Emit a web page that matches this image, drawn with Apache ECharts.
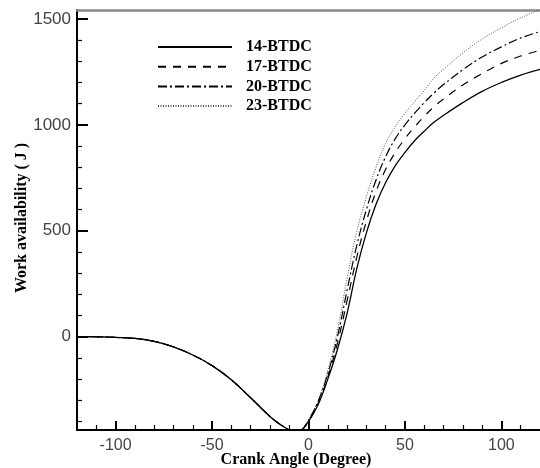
<!DOCTYPE html>
<html>
<head>
<meta charset="utf-8">
<script src="https://cdn.jsdelivr.net/npm/echarts@6/dist/echarts.min.js"></script>
<style>
  html, body { margin: 0; padding: 0; background: #fff; }
  #chart { width: 540px; height: 468px; }
</style>
</head>
<body>
<div id="chart"></div>
<script>
// Compression stroke: identical for every injection timing
const compressionAngles = [-120, -110, -100, -90, -80, -70, -60, -50, -40, -30, -20, -15, -10, -7, -4];
const compressionWork   = [0, 0, -3, -8, -22, -48, -86, -136, -203, -288, -376, -412, -440, -455, -445];

// Combustion / expansion: one curve per injection timing (deg BTDC)
const expansionAngles = [0, 5, 10, 15, 20, 25, 30, 35, 40, 45, 50, 55, 60, 65, 70, 80, 90, 100, 110, 120];
const work14 = [-400, -320, -200, -60, 110, 320, 490, 625, 728, 808, 870, 925, 970, 1012, 1045, 1105, 1158, 1200, 1235, 1262];
const work17 = [-398, -315, -190, -30, 170, 375, 545, 685, 790, 870, 935, 990, 1040, 1085, 1122, 1188, 1242, 1290, 1325, 1352];
const work20 = [-395, -305, -175, 0, 220, 430, 600, 740, 850, 935, 1000, 1055, 1105, 1150, 1190, 1260, 1320, 1368, 1410, 1440];
const work23 = [-390, -300, -160, 30, 275, 495, 660, 800, 912, 992, 1055, 1110, 1162, 1220, 1262, 1340, 1405, 1458, 1505, 1545];

const seriesNames = ['14-BTDC', '17-BTDC', '20-BTDC', '23-BTDC'];

// Axis tick positions
const xMajorTicks = [-100, -50, 0, 50, 100];
const xMinorTicks = [-110, -90, -80, -70, -60, -40, -30, -20, -10, 10, 20, 30, 40, 60, 70, 80, 90, 110];
const yMajorTicks = [0, 500, 1000, 1500];
const yMinorTicks = [-400, -300, -200, -100, 100, 200, 300, 400, 600, 700, 800, 900, 1100, 1200, 1300, 1400];

const serif = "'Liberation Serif', 'DejaVu Serif', serif";
const sans = "'Liberation Sans', Arial, sans-serif";

function curve(values) {
  const angles = compressionAngles.concat(expansionAngles);
  const work = compressionWork.concat(values);
  return angles.map((a, i) => [a, work[i]]);
}

const lineStyles = [
  { color: '#000', width: 1.3, type: 'solid' },
  { color: '#000', width: 1.2, type: [8, 7] },
  { color: '#000', width: 1.2, type: [9, 3, 2, 3] },
  { color: '#555', width: 1, type: [1, 1.5] }
];
const curves = [work14, work17, work20, work23];

const X_MIN = -120, X_MAX = 120, Y_MIN = -440, Y_MAX = 1542;

const chart = echarts.init(document.getElementById('chart'), null, { renderer: 'canvas' });

chart.setOption({
  animation: false,
  backgroundColor: '#fff',
  grid: { left: 77, right: -8, top: 10, bottom: 38, containLabel: false },
  legend: {
    orient: 'vertical',
    left: 157,
    top: 39,
    padding: 0,
    itemWidth: 74,
    itemHeight: 14,
    itemGap: 3.7,
    itemStyle: { opacity: 0 },
    textStyle: { fontFamily: serif, fontWeight: 'bold', fontSize: 16, color: '#000', lineHeight: 14, padding: [0, 0, 0, 9] },
    data: seriesNames
  },
  xAxis: [
    {
      type: 'value', min: X_MIN, max: X_MAX, position: 'bottom',
      axisLine: { show: true, onZero: false, lineStyle: { color: '#000', width: 2 } },
      axisTick: { show: true, inside: true, length: 9, customValues: xMajorTicks, lineStyle: { color: '#000', width: 2 } },
      axisLabel: { customValues: xMajorTicks, fontFamily: sans, fontSize: 16, color: '#444', margin: 8, formatter: v => String(v) },
      splitLine: { show: false }
    },
    {
      type: 'value', min: X_MIN, max: X_MAX, position: 'bottom',
      axisLine: { show: false, onZero: false },
      axisTick: { show: true, inside: true, length: 5, customValues: xMinorTicks, lineStyle: { color: '#000', width: 1.2 } },
      axisLabel: { show: false },
      splitLine: { show: false }
    },
    {
      type: 'value', min: X_MIN, max: X_MAX, position: 'top',
      axisLine: { show: true, onZero: false, lineStyle: { color: '#888', width: 2.5 } },
      axisTick: { show: false }, axisLabel: { show: false }, splitLine: { show: false }
    }
  ],
  yAxis: [
    {
      type: 'value', min: Y_MIN, max: Y_MAX, position: 'left',
      axisLine: { show: true, onZero: false, lineStyle: { color: '#000', width: 2 } },
      axisTick: { show: true, inside: true, length: 11, customValues: yMajorTicks, lineStyle: { color: '#000', width: 2 } },
      axisLabel: { customValues: yMajorTicks, fontFamily: sans, fontSize: 17, color: '#444', margin: 6, formatter: v => String(v) },
      splitLine: { show: false }
    },
    {
      type: 'value', min: Y_MIN, max: Y_MAX, position: 'left',
      axisLine: { show: false, onZero: false },
      axisTick: { show: true, inside: true, length: 5, customValues: yMinorTicks, lineStyle: { color: '#000', width: 1.2 } },
      axisLabel: { show: false },
      splitLine: { show: false }
    }
  ],
  graphic: [
    {
      type: 'text', x: 296, y: 460,
      style: { text: 'Crank Angle (Degree)', font: 'bold 16px ' + serif, fill: '#000', align: 'center', verticalAlign: 'middle' }
    },
    {
      type: 'text', x: 22, y: 218, rotation: Math.PI / 2,
      style: { text: 'Work availability ( J )', font: 'bold 16px ' + serif, fill: '#000', align: 'center', verticalAlign: 'middle' }
    }
  ],
  series: seriesNames.map((name, i) => ({
    name: name,
    type: 'line',
    xAxisIndex: 0,
    yAxisIndex: 0,
    data: curve(curves[i]),
    smooth: 0.4,
    symbol: 'none',
    clip: true,
    lineStyle: lineStyles[i],
    itemStyle: { color: lineStyles[i].color },
    z: 4 - i
  }))
});
</script>
</body>
</html>
